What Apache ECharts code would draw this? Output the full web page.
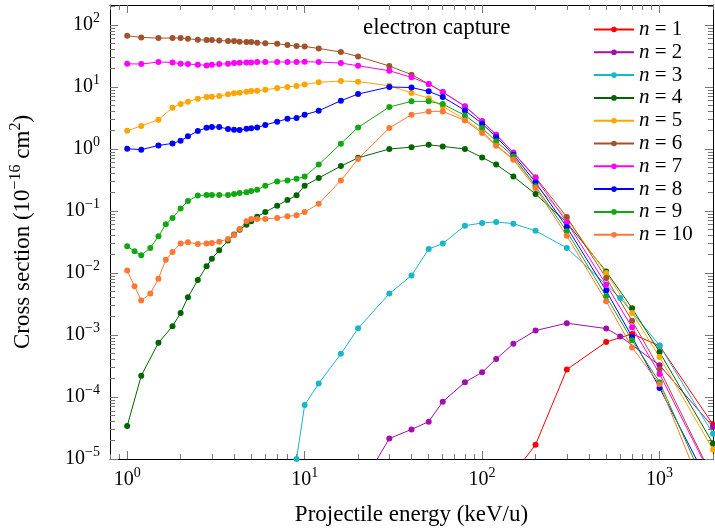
<!DOCTYPE html>
<html>
<head>
<meta charset="utf-8">
<script src="https://cdn.jsdelivr.net/npm/echarts@6/dist/echarts.min.js"></script>
<style>
  html, body { margin: 0; padding: 0; background: #fff; }
  #chart { width: 715px; height: 531px; }
</style>
</head>
<body>
<div id="chart"></div>
<script>
// energy grids (keV/u)
var eFull = [1, 1.2, 1.5, 1.8, 2, 2.2, 2.5, 2.8, 3, 3.3, 3.7, 4, 4.3, 4.7, 5, 5.4, 6, 7, 8, 9,
  10, 12, 16, 20, 30, 40, 50, 60, 80, 100, 120, 150, 200, 300, 500, 700, 1000, 2000];
var eFine = [1, 1.1, 1.2, 1.35, 1.5, 1.65, 1.8, 2, 2.2, 2.5, 2.8, 3, 3.3, 3.7, 4, 4.3, 4.7, 5, 5.4, 6, 7, 8, 9,
  10, 12, 16, 20, 30, 40, 50, 60, 80, 100, 120, 150, 200, 300, 500, 700, 1000, 2000];
var eN1 = [150, 200, 300, 500, 700, 1000, 2000];
var eN2 = [20, 30, 40, 50, 60, 80, 100, 120, 150, 200, 300, 500, 600, 1000, 2000];
var eN3 = [9, 10, 12, 16, 20, 30, 40, 50, 60, 80, 100, 120, 150, 200, 300, 600, 1000, 2000];

// cross sections (1e-16 cm^2)
var csN1 = [5.8e-6, 1.7e-5, 2.77e-4, 7.7e-4, 1.04e-3, 6.7e-4, 3.6e-5];
var csN2 = [3e-6, 2.14e-5, 3.0e-5, 4.0e-5, 8.4e-5, 1.73e-4, 2.5e-4, 4.1e-4, 7.2e-4, 1.18e-3, 1.55e-3, 1.27e-3, 9.5e-4, 3.25e-4, 3.3e-5];
var csN3 = [1.0e-5, 7.4e-5, 1.65e-4, 4.96e-4, 1.28e-3, 4.65e-3, 9.1e-3, 0.0244, 0.0298, 0.058, 0.064, 0.0666, 0.0625, 0.048, 0.0254, 3.96e-3, 6.8e-4, 2.55e-5];
var csN4 = [3.4e-5, 2.2e-4, 7.5e-4, 1.38e-3, 2.27e-3, 4.06e-3, 7.7e-3, 0.0128, 0.017, 0.0232,
  0.0333, 0.0416, 0.05, 0.06, 0.068, 0.081, 0.096, 0.122, 0.15, 0.179,
  0.256, 0.34, 0.53, 0.72, 1.0, 1.07, 1.17, 1.1, 1.0, 0.73,
  0.56, 0.36, 0.188, 0.065, 0.0106, 2.7e-3, 5.3e-4, 1.78e-5];
var csN5 = [1.97, 2.35, 2.97, 4.63, 5.3, 5.8, 6.47, 6.9, 6.97, 7.15,
  7.6, 7.9, 8.1, 8.4, 8.6, 8.7, 9.0, 9.6, 10, 10.4,
  11, 11.9, 12.5, 12.2, 10.5, 8.0, 6.6, 4.86, 3.0, 1.92,
  1.17, 0.69, 0.266, 0.075, 0.01, 2.27e-3, 4.4e-4, 1.42e-5];
var csN6 = [67, 63, 61.5, 61.5, 61.5, 60, 57.8, 57, 57, 56.3,
  55, 55, 53.7, 53, 53, 51.7, 50.8, 49.8, 47.5, 45.7,
  45, 41.8, 36.6, 31, 21.8, 15.8, 11.2, 8.3, 4.9, 2.8,
  1.7, 0.88, 0.35, 0.08, 8.3e-3, 1.7e-3, 2.8e-4, 4.9e-6];
var csN7 = [23.7, 23.4, 25.3, 24.9, 23.7, 23.4, 22.9, 22.3, 22.9, 23.4,
  23.7, 24.3, 24.6, 24.9, 24.9, 25.3, 25.3, 25.3, 25.3, 25.3,
  25.5, 25.3, 24.3, 22, 18.3, 14.3, 11.2, 8.3, 4.86, 2.79,
  1.7, 0.87, 0.34, 0.066, 6.5e-3, 1.33e-3, 2.36e-4, 4.6e-6];
var csN8 = [1.01, 0.975, 1.14, 1.23, 1.36, 1.6, 1.95, 2.2, 2.26, 2.26,
  2.1, 2.05, 2.02, 2.12, 2.15, 2.23, 2.44, 2.75, 3.08, 3.16,
  3.57, 4.14, 6.0, 7.7, 10, 9.8, 8.5, 6.9, 4.19, 2.56,
  1.56, 0.81, 0.29, 0.055, 5.2e-3, 9.3e-4, 1.4e-4, 3e-6];
var csN9 = [0.027, 0.0224, 0.0193, 0.0254, 0.039, 0.061, 0.077,
  0.11, 0.145, 0.177, 0.181, 0.181, 0.181, 0.181, 0.188, 0.195, 0.2, 0.21, 0.22, 0.256, 0.3, 0.31, 0.33, 0.36,
  0.56, 1.22, 2.23, 4.75, 5.86, 5.86, 5.3, 3.48, 2.18, 1.33, 0.76, 0.25, 0.047, 4.2e-3, 8.2e-4, 1.73e-4, 2e-6];
var csN10 = [0.011, 0.0061, 0.0036, 0.00465, 0.0081, 0.0164, 0.0219,
  0.0298, 0.0313, 0.0294, 0.0298, 0.0305, 0.032, 0.0354, 0.041, 0.051, 0.068, 0.0745, 0.0745, 0.0745, 0.077, 0.082, 0.085, 0.096,
  0.131, 0.31, 0.69, 2.18, 3.57, 4.04, 4.04, 2.89, 1.81, 1.13, 0.67, 0.235, 0.04, 3.5e-3, 6.3e-4, 1.6e-4, 1.2e-6];

var seriesNames = ['n = 1', 'n = 2', 'n = 3', 'n = 4', 'n = 5', 'n = 6', 'n = 7', 'n = 8', 'n = 9', 'n = 10'];
var seriesX = [eN1, eN2, eN3, eFull, eFull, eFull, eFull, eFull, eFine, eFine];
var seriesY = [csN1, csN2, csN3, csN4, csN5, csN6, csN7, csN8, csN9, csN10];
var colors = ['#ff0000', '#a20eae', '#19b5c8', '#006400', '#ffa500', '#a0522d', '#ff00ff', '#0000ff', '#10a810', '#ff7733'];

var xMajor = [1, 10, 100, 1000];
var yMajor = [1e-5, 1e-4, 1e-3, 1e-2, 1e-1, 1, 10, 100];

function minorTicks(lo, hi) {
  var out = [];
  for (var p = lo; p <= hi; p++) {
    for (var k = 2; k <= 9; k++) out.push(k * Math.pow(10, p));
  }
  return out;
}
var xMinor = minorTicks(-1, 3).filter(function (v) { return v >= 0.8 && v <= 2000; });
var yMinor = minorTicks(-5, 2).filter(function (v) { return v <= 210; });

var FONT = 'Liberation Serif';

function powLabel(v) {
  var e = Math.round(Math.log10(v));
  return '{b|10}{e|' + (e < 0 ? '\u2212' + (-e) : e) + '}';
}
var powRich = {
  b: { fontSize: 20, fontFamily: FONT, color: '#000' },
  e: { fontSize: 14, fontFamily: FONT, color: '#000', padding: [0, 0, 14, 0] }
};
var nameRich = {
  e: { fontSize: 16, fontFamily: FONT, color: '#000', padding: [0, 0, 14, 0] }
};

var chart = echarts.init(document.getElementById('chart'));

function xAxisDef(pos, major) {
  return {
    type: 'log', logBase: 10, min: 0.8, max: 2000, position: pos,
    gridIndex: 0,
    axisLine: { show: major, lineStyle: { color: '#000', width: 1 } },
    axisTick: { show: true, inside: true, length: major ? 8 : 5, customValues: major ? xMajor : xMinor,
      lineStyle: { color: '#777', width: 1 } },
    axisLabel: { show: false },
    splitLine: { show: false },
    minorTick: { show: false }
  };
}
function yAxisDef(pos, major) {
  return {
    type: 'log', logBase: 10, min: 1e-5, max: 210, position: pos,
    gridIndex: 0,
    axisLine: { show: major, lineStyle: { color: '#000', width: 1 } },
    axisTick: { show: true, inside: true, length: major ? 8 : 5, customValues: major ? yMajor : yMinor,
      lineStyle: { color: '#777', width: 1 } },
    axisLabel: { show: false },
    splitLine: { show: false },
    minorTick: { show: false }
  };
}

var xAxes = [xAxisDef('bottom', true), xAxisDef('bottom', false), xAxisDef('top', true), xAxisDef('top', false)];
xAxes[0].axisLabel = { show: true, customValues: xMajor, formatter: powLabel, rich: powRich, margin: 7 };
xAxes[0].name = 'Projectile energy (keV/u)';
xAxes[0].nameLocation = 'middle';
xAxes[0].nameGap = 44;
xAxes[0].nameTextStyle = { fontFamily: FONT, fontSize: 23, color: '#000' };

var yAxes = [yAxisDef('left', true), yAxisDef('left', false), yAxisDef('right', true), yAxisDef('right', false)];
yAxes[0].axisLabel = { show: true, customValues: yMajor, formatter: powLabel, rich: powRich, margin: 10 };
yAxes[0].name = 'Cross section (10{e|\u221216} cm{e|2})';
yAxes[0].nameLocation = 'middle';
yAxes[0].nameGap = 72;
yAxes[0].nameTextStyle = { fontFamily: FONT, fontSize: 23, color: '#000', rich: nameRich };

var series = seriesNames.map(function (name, i) {
  return {
    name: name,
    type: 'line',
    xAxisIndex: 0,
    yAxisIndex: 0,
    data: seriesX[i].map(function (x, j) { return [x, seriesY[i][j]]; }),
    symbol: 'circle',
    symbolSize: 6,
    showAllSymbol: true,
    clip: true,
    lineStyle: { color: colors[i], width: 1 },
    itemStyle: { color: colors[i] },
    emphasis: { disabled: true }
  };
});

chart.setOption({
  animation: false,
  title: {
    text: 'electron capture',
    left: 358, top: 11,
    textStyle: { fontFamily: FONT, fontSize: 23, fontWeight: 'normal', color: '#000' }
  },
  legend: {
    orient: 'vertical',
    left: 593, top: 19, padding: 0,
    itemWidth: 40, itemHeight: 7, itemGap: 1.8,
    data: seriesNames,
    formatter: function (name) { return name.replace('n', '{i|n}'); },
    textStyle: { fontFamily: FONT, fontSize: 21, color: '#000',
      rich: { i: { fontFamily: FONT, fontSize: 21, fontStyle: 'italic', color: '#000' } } }
  },
  grid: { left: 110, right: 2, top: 5, bottom: 71.5 },
  xAxis: xAxes,
  yAxis: yAxes,
  series: series
});
</script>
</body>
</html>
